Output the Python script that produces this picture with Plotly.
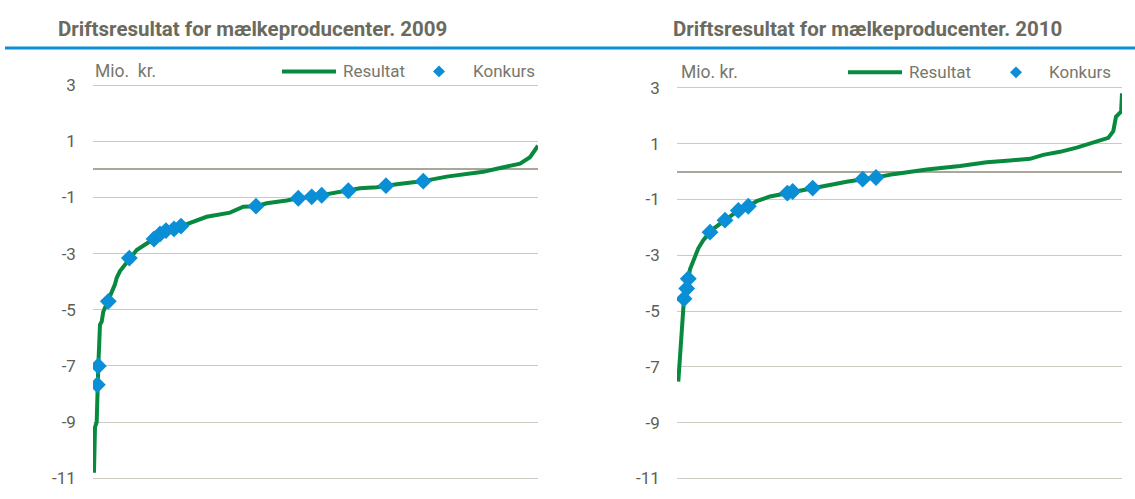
import plotly.graph_objects as go
from plotly.subplots import make_subplots

# ---------------- data ----------------
# x = rank of farm in percent (sorted by result), y = Mio. kr.
x_2009 = [0.22, 0.45, 0.83, 0.97, 1.19, 1.57, 1.96, 2.31, 3.44, 4.20, 4.94, 5.33, 6.07, 7.19, 8.16,
          9.82, 12.07, 13.71, 15.06, 16.40, 18.20, 19.78, 21.80, 25.55, 30.79, 33.78, 36.63, 39.03,
          43.53, 46.13, 49.15, 51.39, 54.00, 57.37, 60.00, 63.75, 65.84, 68.25, 71.98, 74.22, 79.48,
          83.21, 87.71, 90.72, 94.45, 95.96, 98.20, 99.33, 100.0]
res_2009 = [-10.80, -9.18, -9.00, -7.67, -7.00, -5.53, -5.42, -5.07, -4.70, -4.37, -4.09, -3.86, -3.62,
            -3.39, -3.16, -2.87, -2.64, -2.48, -2.30, -2.18, -2.12, -2.02, -1.89, -1.69, -1.54, -1.33,
            -1.31, -1.21, -1.11, -1.03, -0.98, -0.92, -0.84, -0.76, -0.67, -0.64, -0.58, -0.53, -0.46,
            -0.42, -0.26, -0.18, -0.09, 0.02, 0.14, 0.20, 0.43, 0.72, 0.84]
konk_x_2009 = [0.97, 1.19, 3.44, 8.16, 13.71, 15.06, 16.40, 18.20, 19.78, 36.63, 46.13, 49.15, 51.39,
               57.37, 65.84, 74.22]
konk_y_2009 = [-7.67, -7.00, -4.70, -3.16, -2.48, -2.30, -2.18, -2.12, -2.02, -1.31, -1.03, -0.98,
               -0.92, -0.76, -0.58, -0.42]

x_2010 = [0.29, 0.67, 1.06, 1.28, 1.57, 2.18, 2.54, 2.92, 4.79, 5.91, 7.42, 8.16, 10.79, 13.78, 16.02,
          17.91, 20.90, 24.79, 26.00, 30.49, 33.64, 38.13, 41.73, 44.72, 48.61, 56.11, 63.60, 69.60,
          74.83, 79.33, 82.31, 86.07, 89.82, 93.55, 96.92, 98.04, 98.65, 99.80, 100.0]
res_2010 = [-7.53, -6.66, -5.48, -5.37, -4.56, -4.19, -3.84, -3.50, -2.75, -2.46, -2.17, -2.05, -1.74,
            -1.39, -1.24, -1.06, -0.89, -0.77, -0.71, -0.59, -0.47, -0.36, -0.27, -0.21, -0.09, 0.08,
            0.20, 0.34, 0.40, 0.46, 0.60, 0.71, 0.86, 1.04, 1.21, 1.45, 1.97, 2.15, 2.81]
konk_x_2010 = [1.57, 2.18, 2.54, 7.42, 10.79, 13.78, 16.02, 24.79, 26.00, 30.49, 41.73, 44.72]
konk_y_2010 = [-4.56, -4.19, -3.84, -2.17, -1.74, -1.39, -1.24, -0.77, -0.71, -0.59, -0.27, -0.21]

titles = ["Driftsresultat for mælkeproducenter. 2009", "Driftsresultat for mælkeproducenter. 2010"]
unit_labels = ["Mio.  kr.", "Mio. kr."]
legend_names = ["Resultat", "Konkurs"]
y_ticks = [3, 1, -1, -3, -5, -7, -9, -11]

# ---------------- style ----------------
W, H = 1135, 499
FONT = "Roboto, Liberation Sans, Arial, sans-serif"
GREEN = "#078a3e"
BLUE = "#0a8fd6"
GRID = "#cdcbc1"
ZERO = "#a9a79b"
TXT = "#6a6a5e"
LTXT = "#77776b"

def px(x):
    return x / W

def py(y):
    return 1 - y / H

fig = make_subplots(rows=1, cols=2)

for i, (xs, ys, kx, ky) in enumerate([(x_2009, res_2009, konk_x_2009, konk_y_2009),
                                      (x_2010, res_2010, konk_x_2010, konk_y_2010)]):
    fig.add_trace(go.Scatter(x=xs, y=ys, mode="lines", name=legend_names[0],
                             line=dict(color=GREEN, width=4), showlegend=False), row=1, col=i + 1)
    fig.add_trace(go.Scatter(x=kx, y=ky, mode="markers", name=legend_names[1],
                             marker=dict(symbol="diamond", size=13, color=BLUE, line=dict(width=0)),
                             showlegend=False), row=1, col=i + 1)

# axis domains (pixels -> paper); y range padded so edge gridlines are kept
x_doms = [(93, 538), (677, 1122)]
y_doms = [(81, 484), (84, 484)]
PAD = 0.15
for i in range(2):
    xa = "xaxis" if i == 0 else "xaxis2"
    ya = "yaxis" if i == 0 else "yaxis2"
    top, bot = y_doms[i]
    k = (bot - top) / 14.0
    fig.layout[xa].update(domain=[px(x_doms[i][0]), px(x_doms[i][1])], range=[0, 100],
                          showgrid=False, zeroline=False, showticklabels=False, showline=False, ticks="")
    fig.layout[ya].update(domain=[py(bot + PAD * k), py(top - PAD * k)], range=[-11 - PAD, 3 + PAD],
                          tickvals=y_ticks, ticktext=[str(v) for v in y_ticks],
                          showgrid=True, gridcolor=GRID, gridwidth=1.3,
                          zeroline=True, zerolinecolor=ZERO, zerolinewidth=1.6,
                          showline=False, ticks="outside", ticklen=17 - PAD * k,
                          tickcolor="rgba(0,0,0,0)",
                          tickfont=dict(family=FONT, size=17, color="#5e5e54"))

annotations = []
shapes = []
# titles
title_x = [56, 671]
for i in range(2):
    annotations.append(dict(text="<b>" + titles[i] + "</b>", xref="paper", yref="paper",
                            x=px(title_x[i]), y=py(24), xanchor="left", yanchor="middle",
                            showarrow=False, font=dict(family=FONT, size=20.5, color=TXT)))
# blue rule under titles
shapes.append(dict(type="line", xref="paper", yref="paper", x0=px(5), x1=1, y0=py(43), y1=py(43),
                   line=dict(color=BLUE, width=3)))

# unit labels and manual legends
unit_x = [93, 679]
leg_line = [(282, 336), (848, 902)]
leg_res_x = [341, 907]
leg_dia_x = [439, 1016]
leg_konk_x = [471, 1047]
leg_y = [67, 68]
for i in range(2):
    annotations.append(dict(text=unit_labels[i], xref="paper", yref="paper", x=px(unit_x[i]),
                            y=py(leg_y[i]), xanchor="left", yanchor="middle", showarrow=False,
                            font=dict(family=FONT, size=17.5, color=LTXT)))
    shapes.append(dict(type="line", xref="paper", yref="paper", x0=px(leg_line[i][0]),
                       x1=px(leg_line[i][1]), y0=py(leg_y[i]), y1=py(leg_y[i]),
                       line=dict(color=GREEN, width=4)))
    annotations.append(dict(text=legend_names[0], xref="paper", yref="paper", x=px(leg_res_x[i]),
                            y=py(leg_y[i]), xanchor="left", yanchor="middle", showarrow=False,
                            font=dict(family=FONT, size=17, color=LTXT)))
    cx, cy, r = leg_dia_x[i], leg_y[i], 6
    path = "M {} {} L {} {} L {} {} L {} {} Z".format(px(cx - r), py(cy), px(cx), py(cy - r),
                                                      px(cx + r), py(cy), px(cx), py(cy + r))
    shapes.append(dict(type="path", xref="paper", yref="paper", path=path,
                       fillcolor=BLUE, line=dict(width=0)))
    annotations.append(dict(text=legend_names[1], xref="paper", yref="paper", x=px(leg_konk_x[i]),
                            y=py(leg_y[i]), xanchor="left", yanchor="middle", showarrow=False,
                            font=dict(family=FONT, size=17, color=LTXT)))

fig.update_layout(width=W, height=H, margin=dict(l=0, r=0, t=0, b=0),
                  paper_bgcolor="white", plot_bgcolor="white", showlegend=False,
                  annotations=annotations, shapes=shapes, font=dict(family=FONT))

# pin the figure to the page corner so the page is exactly the window size
pin = ("document.documentElement.style.margin='0';document.body.style.margin='0';"
       "document.documentElement.style.overflow='hidden';document.body.style.overflow='hidden';"
       "var d=document.getElementsByClassName('plotly-graph-div')[0];"
       "d.style.position='fixed';d.style.top='0px';d.style.left='0px';")

fig.write_html("out.html", config={"displayModeBar": False}, post_script=pin)
